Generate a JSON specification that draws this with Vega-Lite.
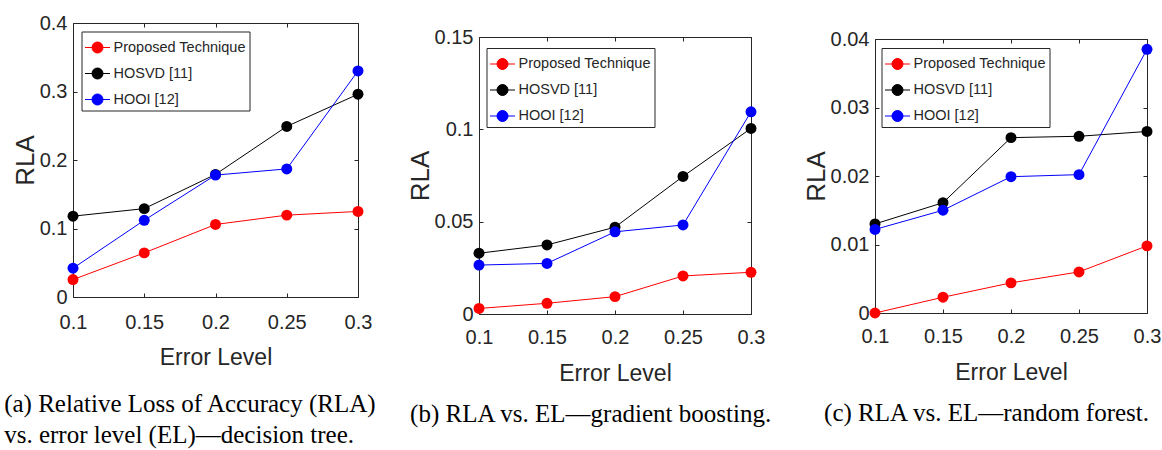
{
  "$schema": "https://vega.github.io/schema/vega-lite/v6.json",
  "padding": {"left": 3, "top": 12, "right": 1, "bottom": 0},
  "background": "white",
  "config": {
    "view": {"stroke": "#262626", "strokeWidth": 1},
    "axis": {"labelFont": "Liberation Sans", "labelFontSize": 20, "labelColor": "#262626", "tickColor": "#262626", "tickSize": -4, "domain": false, "grid": false, "labelFlush": false, "labelOverlap": false, "titleFontWeight": "normal", "titleColor": "#262626", "labelExpr": "'' + datum.value"},
    "axisX": {"titleFont": "Liberation Sans", "titleFontSize": 23},
    "axisY": {"titleFont": "Liberation Sans", "titleFontSize": 26},
    "legend": {"title": null, "orient": "none", "strokeColor": "#262626", "fillColor": "white", "padding": 3, "symbolSize": 625, "symbolStrokeWidth": 1, "labelFont": "Liberation Sans", "labelFontSize": 14.5, "labelColor": "#262626", "labelOffset": 3, "rowPadding": 5},
    "title": {"font": "Liberation Serif", "fontSize": 25, "fontWeight": "normal", "color": "#000000"}
  },
  "resolve": {"legend": {"color": "independent"}, "scale": {"color": "independent"}},
  "spacing": 28,
  "hconcat": [
    {
      "width": 285, "height": 274,
      "title": {"text": ["(a) Relative Loss of Accuracy (RLA)", "vs. error level (EL)\u2014decision tree."], "orient": "bottom", "anchor": "start", "frame": "bounds", "dx": -8, "offset": 23, "lineHeight": 31},
      "data": {"values": [
        {"el": 0.1, "rla": 0.0254, "method": "Proposed Technique"},
        {"el": 0.15, "rla": 0.0644, "method": "Proposed Technique"},
        {"el": 0.2, "rla": 0.1059, "method": "Proposed Technique"},
        {"el": 0.25, "rla": 0.1195, "method": "Proposed Technique"},
        {"el": 0.3, "rla": 0.1249, "method": "Proposed Technique"},
        {"el": 0.1, "rla": 0.118, "method": "HOSVD [11]"},
        {"el": 0.15, "rla": 0.129, "method": "HOSVD [11]"},
        {"el": 0.2, "rla": 0.179, "method": "HOSVD [11]"},
        {"el": 0.25, "rla": 0.249, "method": "HOSVD [11]"},
        {"el": 0.3, "rla": 0.296, "method": "HOSVD [11]"},
        {"el": 0.1, "rla": 0.042, "method": "HOOI [12]"},
        {"el": 0.15, "rla": 0.112, "method": "HOOI [12]"},
        {"el": 0.2, "rla": 0.178, "method": "HOOI [12]"},
        {"el": 0.25, "rla": 0.187, "method": "HOOI [12]"},
        {"el": 0.3, "rla": 0.330, "method": "HOOI [12]"}
      ]},
      "encoding": {
        "color": {"field": "method", "type": "nominal", "sort": null,
          "scale": {"domain": ["Proposed Technique", "HOSVD [11]", "HOOI [12]"], "range": ["#ff0000", "#000000", "#0000ff"]},
          "legend": {"legendX": 8.5, "legendY": 8.5, "symbolType": "M-1,0L1,0M-0.44,0A0.44,0.44,0,1,1,0.44,0A0.44,0.44,0,1,1,-0.44,0Z"}}
      },
      "layer": [
        {"mark": {"type": "line", "strokeWidth": 1},
         "encoding": {
           "x": {"field": "el", "type": "quantitative", "scale": {"domain": [0.1, 0.3]}, "axis": {"orient": "bottom", "title": "Error Level", "values": [0.1, 0.15, 0.2, 0.25, 0.3], "labelPadding": 19, "titlePadding": 14}},
           "y": {"field": "rla", "type": "quantitative", "scale": {"domain": [0, 0.4]}, "axis": {"orient": "left", "title": "RLA", "values": [0, 0.1, 0.2, 0.3, 0.4], "labelPadding": 10, "titlePadding": 1}}
         }},
        {"mark": {"type": "point", "filled": true, "size": 120, "opacity": 1},
         "encoding": {
           "x": {"field": "el", "type": "quantitative", "scale": {"domain": [0.1, 0.3]}, "axis": {"orient": "top", "title": null, "labels": false, "values": [0.1, 0.15, 0.2, 0.25, 0.3]}},
           "y": {"field": "rla", "type": "quantitative", "scale": {"domain": [0, 0.4]}, "axis": {"orient": "right", "title": null, "labels": false, "values": [0, 0.1, 0.2, 0.3, 0.4]}}
         }}
      ],
      "resolve": {"axis": {"x": "independent", "y": "independent"}}
    },
    {
      "resolve": {"legend": {"color": "independent"}, "scale": {"color": "independent"}},
      "spacing": 28,
      "hconcat": [
        {
          "resolve": {"legend": {"color": "independent"}, "scale": {"color": "independent"}},
          "spacing": 2,
          "vconcat": [
            {"width": 1, "height": 1, "data": {"values": []}, "mark": "point", "view": {"stroke": null}},
            {
              "width": 272, "height": 277,
              "title": {"text": "(b) RLA vs. EL\u2014gradient boosting.", "orient": "bottom", "anchor": "start", "frame": "bounds", "dx": 3, "offset": 17},
              "data": {"values": [
                {"el": 0.1, "rla": 0.003, "method": "Proposed Technique"},
                {"el": 0.15, "rla": 0.0058, "method": "Proposed Technique"},
                {"el": 0.2, "rla": 0.0094, "method": "Proposed Technique"},
                {"el": 0.25, "rla": 0.0206, "method": "Proposed Technique"},
                {"el": 0.3, "rla": 0.0226, "method": "Proposed Technique"},
                {"el": 0.1, "rla": 0.0329, "method": "HOSVD [11]"},
                {"el": 0.15, "rla": 0.0374, "method": "HOSVD [11]"},
                {"el": 0.2, "rla": 0.047, "method": "HOSVD [11]"},
                {"el": 0.25, "rla": 0.0745, "method": "HOSVD [11]"},
                {"el": 0.3, "rla": 0.1005, "method": "HOSVD [11]"},
                {"el": 0.1, "rla": 0.0265, "method": "HOOI [12]"},
                {"el": 0.15, "rla": 0.0274, "method": "HOOI [12]"},
                {"el": 0.2, "rla": 0.0445, "method": "HOOI [12]"},
                {"el": 0.25, "rla": 0.0482, "method": "HOOI [12]"},
                {"el": 0.3, "rla": 0.1095, "method": "HOOI [12]"}
              ]},
              "encoding": {
                "color": {"field": "method", "type": "nominal", "sort": null,
                  "scale": {"domain": ["Proposed Technique", "HOSVD [11]", "HOOI [12]"], "range": ["#ff0000", "#000000", "#0000ff"]},
                  "legend": {"legendX": 7.5, "legendY": 11, "symbolType": "M-1,0L1,0M-0.44,0A0.44,0.44,0,1,1,0.44,0A0.44,0.44,0,1,1,-0.44,0Z"}}
              },
              "layer": [
                {"mark": {"type": "line", "strokeWidth": 1},
                 "encoding": {
                   "x": {"field": "el", "type": "quantitative", "scale": {"domain": [0.1, 0.3]}, "axis": {"orient": "bottom", "title": "Error Level", "values": [0.1, 0.15, 0.2, 0.25, 0.3], "labelPadding": 17, "titlePadding": 15}},
                   "y": {"field": "rla", "type": "quantitative", "scale": {"domain": [0, 0.15]}, "axis": {"orient": "left", "title": "RLA", "values": [0, 0.05, 0.1, 0.15], "labelPadding": 10, "titlePadding": 1}}
                 }},
                {"mark": {"type": "point", "filled": true, "size": 120, "opacity": 1},
                 "encoding": {
                   "x": {"field": "el", "type": "quantitative", "scale": {"domain": [0.1, 0.3]}, "axis": {"orient": "top", "title": null, "labels": false, "values": [0.1, 0.15, 0.2, 0.25, 0.3]}},
                   "y": {"field": "rla", "type": "quantitative", "scale": {"domain": [0, 0.15]}, "axis": {"orient": "right", "title": null, "labels": false, "values": [0, 0.05, 0.1, 0.15]}}
                 }}
              ],
              "resolve": {"axis": {"x": "independent", "y": "independent"}}
            }
          ]
        },
        {
          "resolve": {"legend": {"color": "independent"}, "scale": {"color": "independent"}},
          "spacing": 4,
          "vconcat": [
            {"width": 1, "height": 1, "data": {"values": []}, "mark": "point", "view": {"stroke": null}},
            {
              "width": 272, "height": 274,
              "title": {"text": "(c) RLA vs. EL\u2014random forest.", "orient": "bottom", "anchor": "start", "frame": "bounds", "dx": 21, "offset": 17},
              "data": {"values": [
                {"el": 0.1, "rla": 0.0, "method": "Proposed Technique"},
                {"el": 0.15, "rla": 0.0023, "method": "Proposed Technique"},
                {"el": 0.2, "rla": 0.0044, "method": "Proposed Technique"},
                {"el": 0.25, "rla": 0.006, "method": "Proposed Technique"},
                {"el": 0.3, "rla": 0.0098, "method": "Proposed Technique"},
                {"el": 0.1, "rla": 0.013, "method": "HOSVD [11]"},
                {"el": 0.15, "rla": 0.0161, "method": "HOSVD [11]"},
                {"el": 0.2, "rla": 0.0256, "method": "HOSVD [11]"},
                {"el": 0.25, "rla": 0.0258, "method": "HOSVD [11]"},
                {"el": 0.3, "rla": 0.0265, "method": "HOSVD [11]"},
                {"el": 0.1, "rla": 0.0122, "method": "HOOI [12]"},
                {"el": 0.15, "rla": 0.015, "method": "HOOI [12]"},
                {"el": 0.2, "rla": 0.0199, "method": "HOOI [12]"},
                {"el": 0.25, "rla": 0.0202, "method": "HOOI [12]"},
                {"el": 0.3, "rla": 0.0385, "method": "HOOI [12]"}
              ]},
              "encoding": {
                "color": {"field": "method", "type": "nominal", "sort": null,
                  "scale": {"domain": ["Proposed Technique", "HOSVD [11]", "HOOI [12]"], "range": ["#ff0000", "#000000", "#0000ff"]},
                  "legend": {"legendX": 6.5, "legendY": 9, "symbolType": "M-1,0L1,0M-0.44,0A0.44,0.44,0,1,1,0.44,0A0.44,0.44,0,1,1,-0.44,0Z"}}
              },
              "layer": [
                {"mark": {"type": "line", "strokeWidth": 1},
                 "encoding": {
                   "x": {"field": "el", "type": "quantitative", "scale": {"domain": [0.1, 0.3]}, "axis": {"orient": "bottom", "title": "Error Level", "values": [0.1, 0.15, 0.2, 0.25, 0.3], "labelPadding": 17, "titlePadding": 15}},
                   "y": {"field": "rla", "type": "quantitative", "scale": {"domain": [0, 0.04]}, "axis": {"orient": "left", "title": "RLA", "values": [0, 0.01, 0.02, 0.03, 0.04], "labelPadding": 10, "titlePadding": 1}}
                 }},
                {"mark": {"type": "point", "filled": true, "size": 120, "opacity": 1},
                 "encoding": {
                   "x": {"field": "el", "type": "quantitative", "scale": {"domain": [0.1, 0.3]}, "axis": {"orient": "top", "title": null, "labels": false, "values": [0.1, 0.15, 0.2, 0.25, 0.3]}},
                   "y": {"field": "rla", "type": "quantitative", "scale": {"domain": [0, 0.04]}, "axis": {"orient": "right", "title": null, "labels": false, "values": [0, 0.01, 0.02, 0.03, 0.04]}}
                 }}
              ],
              "resolve": {"axis": {"x": "independent", "y": "independent"}}
            }
          ]
        }
      ]
    }
  ]
}
